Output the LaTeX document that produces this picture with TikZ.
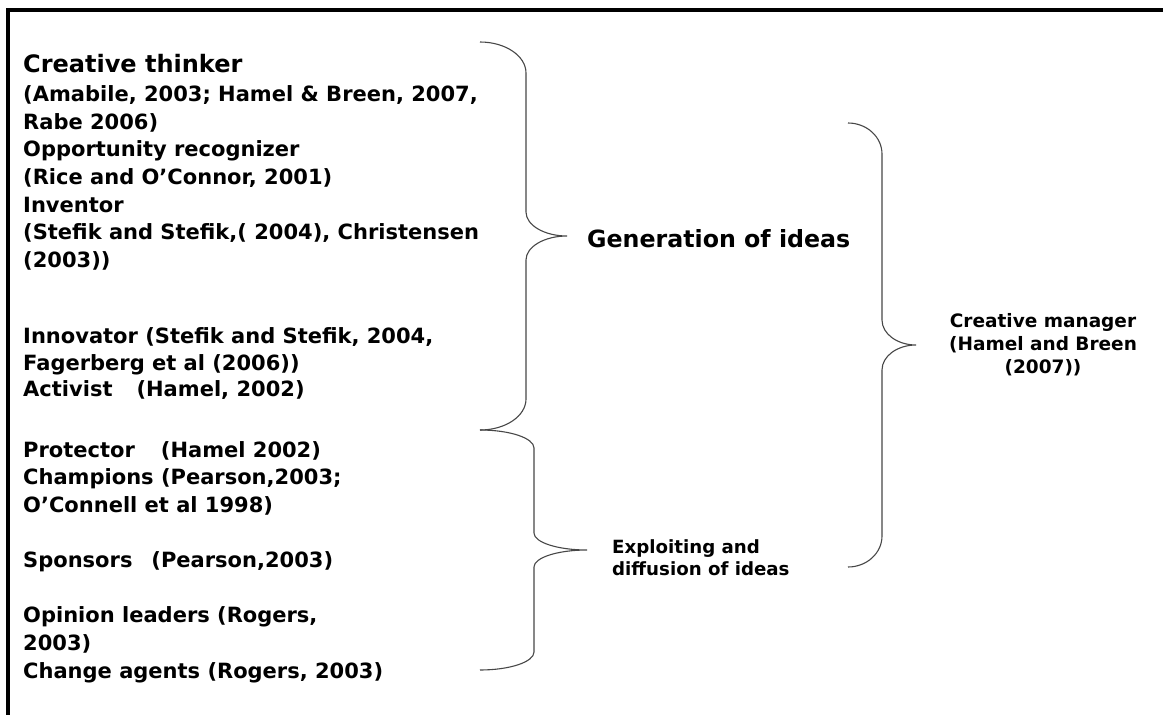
\documentclass[tikz,border=0pt]{standalone}
\usepackage{fontspec}
\setmainfont{DejaVu Sans}
\newcommand{\sz}[1]{\fontsize{#1}{#1}\selectfont\bfseries}
\tikzset{
  x=1pt, y=-1pt,
  frame/.style={line width=3.5pt, line join=miter},
  bracestyle/.style={line width=1.1pt, draw=black!72},
  entry/.style={anchor=base west, inner sep=0pt, font=\sz{21}},
  heading/.style={anchor=base west, inner sep=0pt, font=\sz{24}},
  group/.style={anchor=base west, inner sep=0pt, font=\sz{23.7}},
  subgroup/.style={anchor=base west, inner sep=0pt, font=\sz{18.2}},
  role/.style={anchor=base, inner sep=0pt, font=\sz{18.5}},
}
% curly brace: #1 end x, #2 top y, #3 bottom y, #4 spine x, #5 tip x,
% #6 corner height, #7 half height of the tip bend, #8 name of the tip
\newcommand{\curlybrace}[8]{%
  \pgfmathsetmacro\bym{(#2+#3)/2}%
  \coordinate (#8) at (#5,\bym);
  \draw[bracestyle]
    (#1,#2) .. controls ({#1+0.552*(#4-#1)},#2) and (#4,{#2+0.448*#6}) .. (#4,{#2+#6})
    -- (#4,{\bym-#7})
    .. controls (#4,{\bym-0.448*#7}) and ({#4+0.448*(#5-#4)},\bym) .. (#8)
    .. controls ({#4+0.448*(#5-#4)},\bym) and (#4,{\bym+0.448*#7}) .. (#4,{\bym+#7})
    -- (#4,{#3-#6})
    .. controls (#4,{#3-0.448*#6}) and ({#1+0.552*(#4-#1)},#3) .. (#1,#3);
}
\begin{document}
\begin{tikzpicture}
\useasboundingbox (0,0) rectangle (1163,715);
\fill[white] (0,0) rectangle (1163,715);

% outer frame (top and left edges)
\draw[frame] (8,716) -- (8,10) -- (1164,10);

% roles and their sources
\node[heading] (t1) at (23,72) {Creative thinker};
\node[entry] (t2) at (23,101.5) {(Amabile, 2003; Hamel \& Breen, 2007,};
\node[entry] (t3) at (23,129) {Rabe 2006)};
\node[entry] (t4) at (23,156.5) {Opportunity recognizer};
\node[entry] (t5) at (23,184.5) {(Rice and O’Connor, 2001)};
\node[entry] (t6) at (23,212) {Inventor};
\node[entry] (t7) at (23,239.5) {(Stefik and Stefik,( 2004), Christensen};
\node[entry] (t8) at (23,267) {(2003))};

\node[entry] (t9) at (23,343) {Innovator (Stefik and Stefik, 2004,};
\node[entry] (t10) at (23,370) {Fagerberg et al (2006))};
\node[entry] (t11) at (23,396) {Activist\hspace{24pt}(Hamel, 2002)};

\node[entry] (t12) at (23,457) {Protector\hspace{26pt}(Hamel 2002)};
\node[entry] (t13) at (23,484.5) {Champions (Pearson,2003;};
\node[entry] (t14) at (23,512) {O’Connell et al 1998)};

\node[entry] (t15) at (23,567) {Sponsors\hspace{19pt}(Pearson,2003)};

\node[entry] (t16) at (23,622) {Opinion leaders (Rogers,};
\node[entry] (t17) at (23,650) {2003)};
\node[entry] (t18) at (23,678) {Change agents (Rogers, 2003)};

% braces grouping the roles
\curlybrace{480}{42}{430}{526}{567}{31}{24}{gentip}
\curlybrace{480}{430}{670}{534}{587}{18}{17}{exptip}
\curlybrace{848}{123}{567}{882}{916}{31}{25}{mgrtip}

% group labels
\node[group] (gen) at (587,247) {Generation of ideas};
\node[subgroup] (exp1) at (612,553) {Exploiting and};
\node[subgroup] (exp2) at (612,575) {diffusion of ideas};
\node[role] (mgr1) at (1043,327) {Creative manager};
\node[role] (mgr2) at (1043,350) {(Hamel and Breen};
\node[role] (mgr3) at (1043,373) {(2007))};
\end{tikzpicture}
\end{document}
